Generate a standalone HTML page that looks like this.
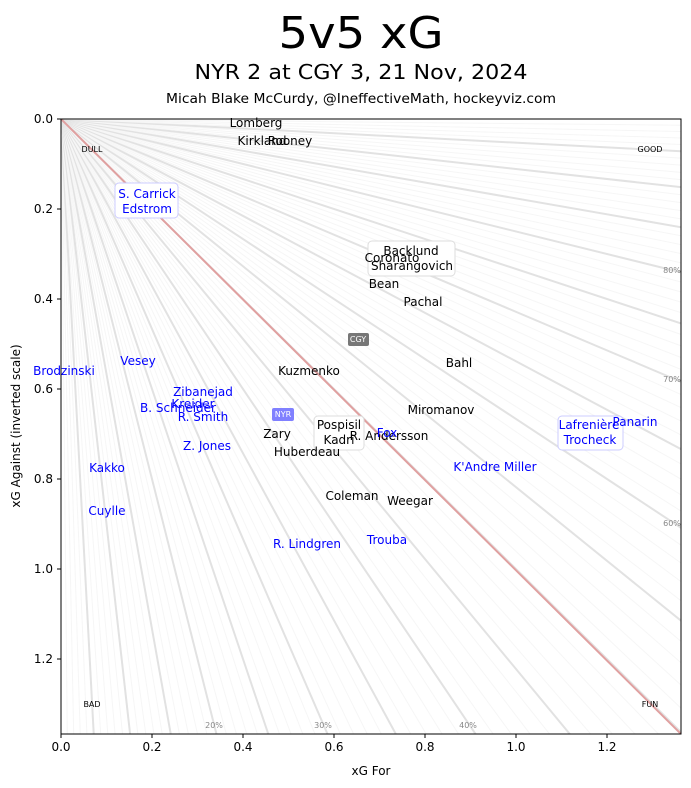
<!DOCTYPE html>
<html><head><meta charset="utf-8"><style>
html,body{margin:0;background:#fff;overflow:hidden;width:691px;height:788px}
svg{display:block;font-family:"DejaVu Sans","Liberation Sans",sans-serif}
</style></head><body>
<svg id="s" width="691" height="788" viewBox="0 0 691 788" xmlns="http://www.w3.org/2000/svg">
<defs><clipPath id="c"><rect x="61" y="119" width="620" height="615"/></clipPath></defs>
<rect width="691" height="788" fill="#fff"/>
<text x="361" y="48" font-size="44" text-anchor="middle" textLength="165" lengthAdjust="spacingAndGlyphs">5v5 xG</text>
<text x="361" y="79" font-size="20" text-anchor="middle" textLength="333" lengthAdjust="spacingAndGlyphs">NYR 2 at CGY 3, 21 Nov, 2024</text>
<text x="361" y="103" font-size="13" text-anchor="middle" textLength="390" lengthAdjust="spacingAndGlyphs">Micah Blake McCurdy, @IneffectiveMath, hockeyviz.com</text>
<g id="rays" clip-path="url(#c)"></g>
<line x1="61" y1="119" x2="681" y2="734" stroke="#e0a0a0" stroke-width="2" clip-path="url(#c)"/>
<g font-size="8" fill="#000" text-anchor="middle">
<text x="92" y="152">DULL</text><text x="650" y="152">GOOD</text>
<text x="92" y="707">BAD</text><text x="650" y="707">FUN</text>
</g>
<g font-size="8" fill="#888" text-anchor="middle">
<text x="672" y="273">80%</text><text x="672" y="382">70%</text><text x="672" y="526">60%</text>
<text x="214" y="728">20%</text><text x="323" y="728">30%</text><text x="468" y="728">40%</text>
</g>
<g fill="#fff" stroke-width="1">
<rect x="115" y="183" width="63" height="35" rx="4" stroke="#ccccff"/>
<rect x="368" y="241" width="87" height="35" rx="4" stroke="#ddd"/>
<rect x="314" y="416" width="50" height="34" rx="4" stroke="#ddd"/>
<rect x="558" y="416" width="65" height="34" rx="4" stroke="#ccccff"/>
</g>
<rect x="348" y="333" width="21" height="13" rx="2" fill="#777"/>
<text x="358" y="342" font-size="8" fill="#fff" text-anchor="middle">CGY</text>
<rect x="272" y="408" width="22" height="13" rx="2" fill="#8080ff"/>
<text x="283" y="417" font-size="8" fill="#fff" text-anchor="middle">NYR</text>
<g font-size="12" text-anchor="middle" fill="#000">
<text x="256" y="127">Lomberg</text><text x="262" y="145">Kirkland</text><text x="290" y="145">Rooney</text>
<text x="411" y="255">Backlund</text><text x="392" y="262">Coronato</text><text x="412" y="270">Sharangovich</text>
<text x="384" y="288">Bean</text><text x="423" y="306">Pachal</text><text x="459" y="367">Bahl</text>
<text x="309" y="375">Kuzmenko</text><text x="441" y="414">Miromanov</text>
<text x="339" y="429">Pospisil</text><text x="339" y="444">Kadri</text><text x="277" y="438">Zary</text>
<text x="389" y="440">R. Andersson</text><text x="307" y="456">Huberdeau</text>
<text x="352" y="500">Coleman</text><text x="410" y="505">Weegar</text>
</g>
<g font-size="12" text-anchor="middle" fill="#0000ff">
<text x="147" y="198">S. Carrick</text><text x="147" y="213">Edstrom</text>
<text x="64" y="375">Brodzinski</text><text x="138" y="365">Vesey</text>
<text x="203" y="396">Zibanejad</text><text x="193" y="408">Kreider</text><text x="178" y="412">B. Schneider</text>
<text x="203" y="421">R. Smith</text><text x="207" y="450">Z. Jones</text><text x="387" y="437">Fox</text>
<text x="589" y="429">Lafrenière</text><text x="590" y="444">Trocheck</text><text x="635" y="426">Panarin</text>
<text x="495" y="471">K'Andre Miller</text><text x="107" y="472">Kakko</text><text x="107" y="515">Cuylle</text>
<text x="387" y="544">Trouba</text><text x="307" y="548">R. Lindgren</text>
</g>
<rect x="61" y="119" width="620" height="615" fill="none" stroke="#000" stroke-width="1"/>
<g stroke="#000" stroke-width="1">
<line x1="61" y1="734" x2="61" y2="738"/><line x1="152" y1="734" x2="152" y2="738"/><line x1="243" y1="734" x2="243" y2="738"/><line x1="334" y1="734" x2="334" y2="738"/><line x1="425" y1="734" x2="425" y2="738"/><line x1="516" y1="734" x2="516" y2="738"/><line x1="607" y1="734" x2="607" y2="738"/>
<line x1="57" y1="119" x2="61" y2="119"/><line x1="57" y1="209" x2="61" y2="209"/><line x1="57" y1="299" x2="61" y2="299"/><line x1="57" y1="389" x2="61" y2="389"/><line x1="57" y1="479" x2="61" y2="479"/><line x1="57" y1="569" x2="61" y2="569"/><line x1="57" y1="659" x2="61" y2="659"/>
</g>
<g font-size="12" fill="#000" text-anchor="middle">
<text x="61" y="751">0.0</text><text x="152" y="751">0.2</text><text x="243" y="751">0.4</text><text x="334" y="751">0.6</text><text x="425" y="751">0.8</text><text x="516" y="751">1.0</text><text x="607" y="751">1.2</text>
</g>
<g font-size="12" fill="#000" text-anchor="end">
<text x="53" y="123">0.0</text><text x="53" y="213">0.2</text><text x="53" y="303">0.4</text><text x="53" y="393">0.6</text><text x="53" y="483">0.8</text><text x="53" y="573">1.0</text><text x="53" y="663">1.2</text>
</g>
<text x="371" y="775" font-size="12" text-anchor="middle">xG For</text>
<text x="0" y="0" font-size="12" text-anchor="middle" transform="translate(20,426) rotate(-90)">xG Against (inverted scale)</text>
<script>
var NS="http://www.w3.org/2000/svg",r=document.getElementById("rays");
for(var i=1;i<100;i++){var p=i/100,L=3,l=document.createElementNS(NS,"line");
l.setAttribute("x1",61);l.setAttribute("y1",119);
l.setAttribute("x2",61+p*455*L/Math.max(p,1-p));l.setAttribute("y2",119+(1-p)*450*L/Math.max(p,1-p));
if(i%5==0){l.setAttribute("stroke","#e2e2e2");l.setAttribute("stroke-width","2");}
else{l.setAttribute("stroke","#f6f6f6");l.setAttribute("stroke-width","1");}
r.appendChild(l);}
</script>
</svg>
</body></html>
